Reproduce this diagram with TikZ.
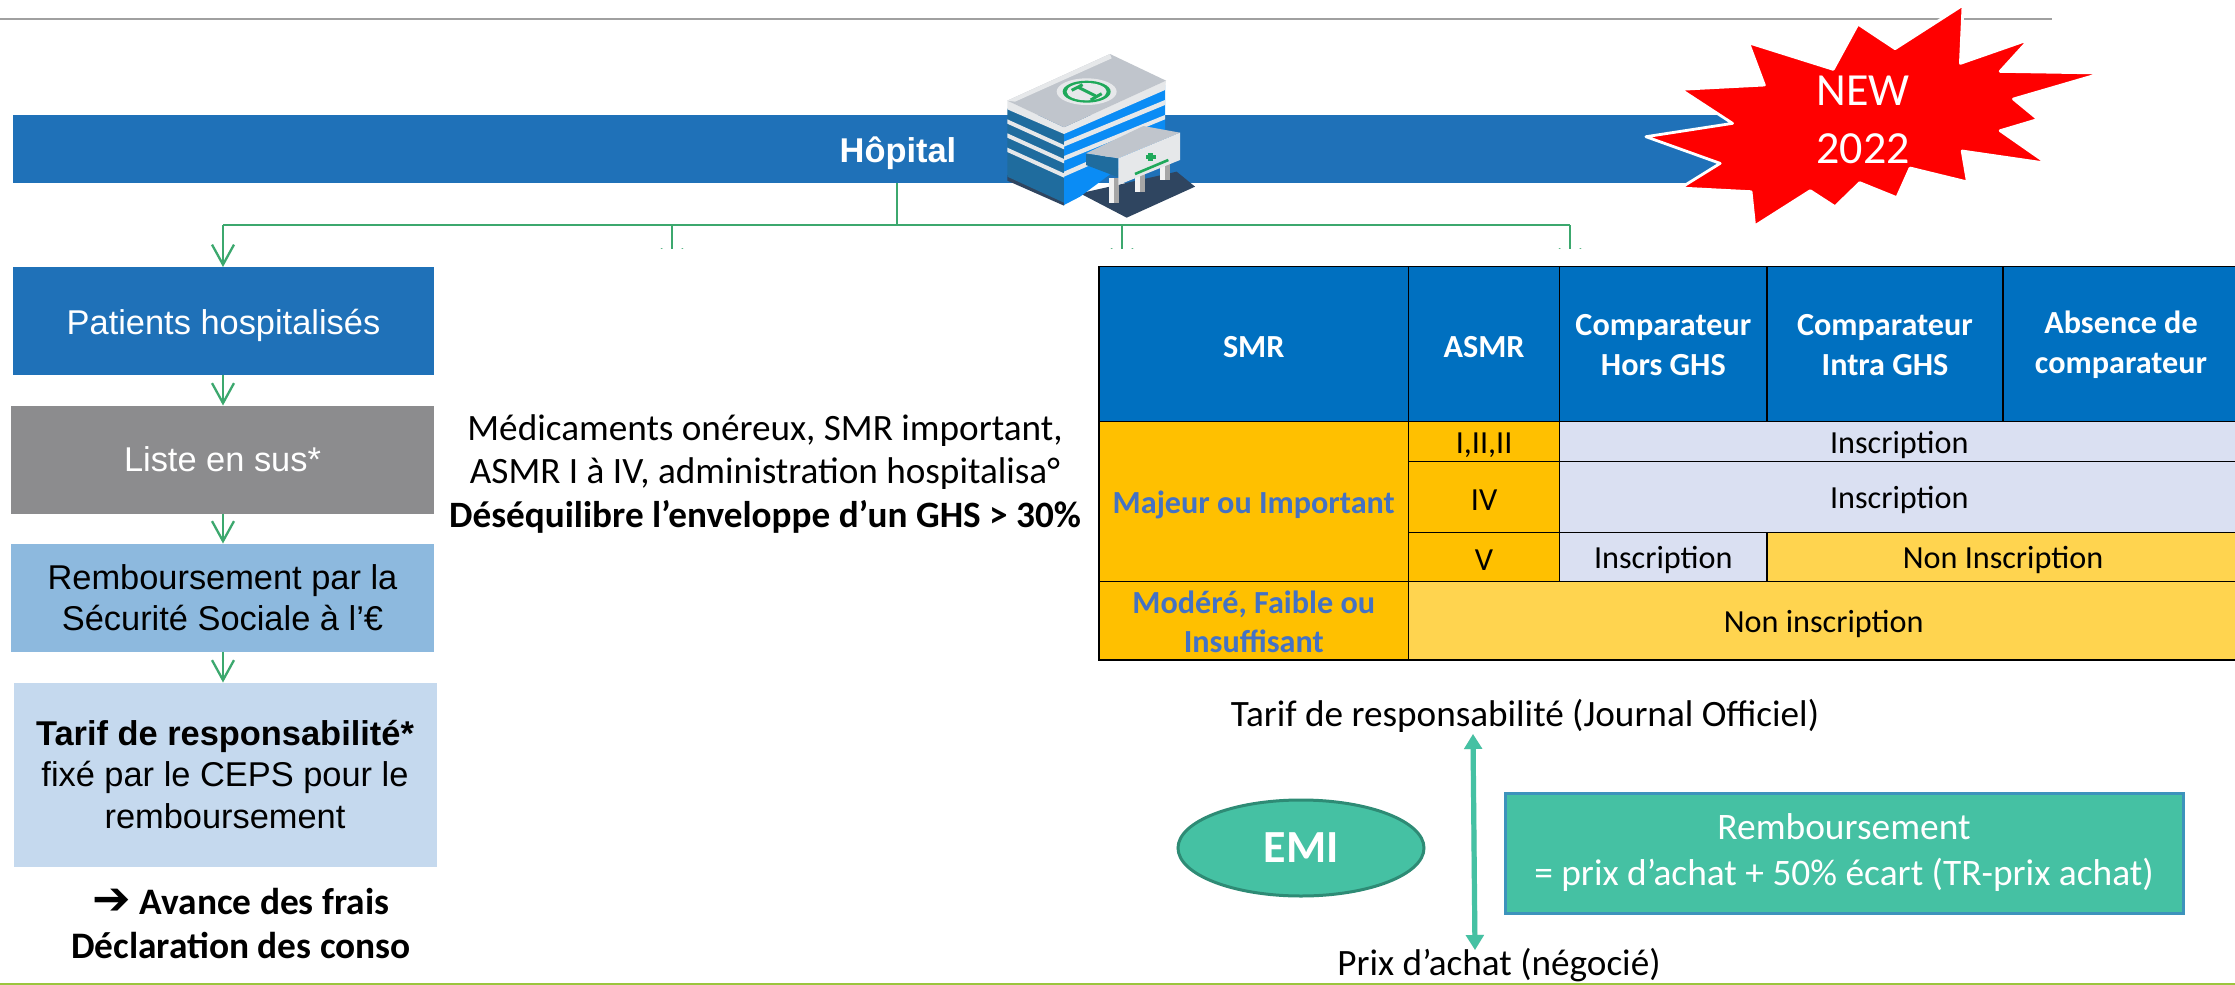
\documentclass[tikz,border=0pt]{standalone}
\usepackage{fontspec}
\setmainfont{Carlito}
\newfontfamily\arialf{Liberation Sans}
\newfontfamily\dejav{DejaVu Sans}
\usetikzlibrary{arrows.meta,shapes.geometric}
\definecolor{barblue}{HTML}{1F71B8}
\definecolor{midgrey}{HTML}{8C8C8E}
\definecolor{medblue}{HTML}{8DB9DE}
\definecolor{paleblue}{HTML}{C5D9EE}
\definecolor{linkgreen}{HTML}{3CA86E}
\definecolor{headblue}{HTML}{0070C0}
\definecolor{gold}{HTML}{FFC000}
\definecolor{lilac}{HTML}{DAE0F2}
\definecolor{softgold}{HTML}{FFD44F}
\definecolor{txtblue}{HTML}{4472C4}
\definecolor{teal}{HTML}{45C1A3}
\definecolor{tealdark}{HTML}{2E8B75}
\definecolor{edgeblue}{HTML}{3D93BC}
\definecolor{rulegreen}{HTML}{9BC53D}
\definecolor{rulegrey}{HTML}{A0A0A0}
\tikzset{
  flowbox/.style={rectangle,draw=none,inner sep=0pt,align=center,font=\arialf\fontsize{17.2}{20.8}\selectfont},
  plaintext/.style={inner sep=0pt,align=center,font=\fontsize{18.6}{21.7}\selectfont},
  cellhead/.style={inner sep=0pt,align=center,text=white,yshift=-1.6pt,font=\bfseries\fontsize{16.1}{19.8}\selectfont},
  cellbody/.style={inner sep=0pt,align=center,yshift=-1.6pt,font=\fontsize{16.1}{19.8}\selectfont},
  cellside/.style={inner sep=0pt,align=center,text=txtblue,yshift=-1.6pt,font=\bfseries\fontsize{16.1}{19.8}\selectfont},
  twolines/.style={yshift=1.2pt},
  link/.style={draw=linkgreen,line width=1.15pt},
  linkarrow/.style={link,-{Straight Barb[length=10pt,width=11pt,line width=1.15pt]}},
  gridline/.style={draw=black,line width=.6pt},
  tealarrow/.style={{Triangle[length=7.5pt,width=8.7pt]}-{Triangle[length=7.5pt,width=8.7pt]}},
}
% name, x1, y1, x2, y2, fill, text style, text
\newcommand{\tcell}[8]{%
  \filldraw[gridline,fill=#6] (#2,#3) rectangle (#4,#5);
  \path (#2,#3) -- (#4,#5) node[midway,#7] (#1) {#8};
}
\begin{document}
\begin{tikzpicture}[x=0.5pt,y=-0.5pt]
\useasboundingbox (0,0) rectangle (2235,985);
\fill[white] (0,0) rectangle (2235,985);
% rules
\draw[draw=rulegrey,line width=1pt] (0,18.7) -- (2052,18.7);
\fill[rulegreen] (0,982.5) rectangle (2235,985);
% bar
\path[fill=barblue] (13,115) rectangle (1735,183);
\node[inner sep=0pt,text=white,font=\arialf\bfseries\fontsize{17.2}{20}\selectfont] (hop) at (898,153) {Hôpital};
\coordinate (barfoot) at (897,183);
\coordinate (busjoin) at (897,225);
% connectors top
\draw[link] (barfoot) -- (busjoin);
\coordinate (busleft) at (223,225);
\coordinate (busright) at (1570,225);
\draw[link,line width=1.35pt] (busleft) -- (busright);
\begin{scope}
  \clip (0,220) rectangle (2235,248);
  \coordinate (t1) at (672,271);
  \coordinate (t2) at (1122,271);
  \coordinate (t3) at (1570,271);
  \draw[linkarrow] (672,225) -- (t1);
  \draw[linkarrow] (1122,225) -- (t2);
  \draw[linkarrow] (1570,225) -- (t3);
\end{scope}
% left column
\fill[barblue] (13,267) rectangle (434,374.5);
\node[flowbox,text=white] (patients) at (223.5,325) {Patients hospitalisés};
\fill[midgrey] (11,405.5) rectangle (434,513.5);
\node[flowbox,text=white] (liste) at (222.5,459.5) {Liste en sus*};
\fill[medblue] (11,543.5) rectangle (434,651.5);
\node[flowbox] (remb) at (222.5,597.5) {Remboursement par la\\Sécurité Sociale à l’€};
\fill[paleblue] (14,682.5) rectangle (437,866.5);
\node[flowbox] (tarif) at (225,774.5) {\textbf{Tarif de responsabilité*}\\fixé par le CEPS pour le\\remboursement};
\coordinate (pTop) at (223,267);
\coordinate (pBot) at (223,374.5);
\coordinate (lTop) at (223,405.5);
\coordinate (lBot) at (223,513.5);
\coordinate (rTop) at (223,543.5);
\coordinate (rBot) at (223,651.5);
\coordinate (tTop) at (223,682.5);
\draw[linkarrow] (busleft) -- (pTop);
\draw[linkarrow] (pBot) -- (lTop);
\draw[linkarrow] (lBot) -- (rTop);
\draw[linkarrow] (rBot) -- (tTop);
\node[inner sep=0pt,align=center,font=\bfseries\fontsize{18.7}{22}\selectfont] (avance) at (241,924) {{\dejav\bfseries\fontsize{23}{22}\selectfont\char"2794}\ Avance des frais\\Déclaration des conso};
% middle text
\node[plaintext] (medics) at (765,474) {Médicaments onéreux, SMR important,\\ASMR I à IV, administration hospitalisa°\\\textbf{Déséquilibre l’enveloppe d’un GHS > 30\%}};
% table
\def\xa{1099}\def\xb{1408.5}\def\xc{1559.7}\def\xd{1767}\def\xe{2003}\def\xf{2239}
\def\ya{266.7}\def\yb{421.7}\def\yc{461.7}\def\yd{532.7}\def\ye{581.7}\def\yf{660}
\tcell{hsmr}{\xa}{\ya}{\xb}{\yb}{headblue}{cellhead}{SMR}
\tcell{hasmr}{\xb}{\ya}{\xc}{\yb}{headblue}{cellhead}{ASMR}
\tcell{hhors}{\xc}{\ya}{\xd}{\yb}{headblue}{cellhead,twolines}{Comparateur\\Hors GHS}
\tcell{hintra}{\xd}{\ya}{\xe}{\yb}{headblue}{cellhead,twolines}{Comparateur\\Intra GHS}
\tcell{habs}{\xe}{\ya}{\xf}{\yb}{headblue}{cellhead,twolines}{Absence de\\comparateur}
\tcell{major}{\xa}{\yb}{\xb}{\ye}{gold}{cellside}{Majeur ou Important}
\tcell{a1}{\xb}{\yb}{\xc}{\yc}{gold}{cellbody}{I,II,II}
\tcell{b1}{\xc}{\yb}{\xf}{\yc}{lilac}{cellbody}{Inscription}
\tcell{a2}{\xb}{\yc}{\xc}{\yd}{gold}{cellbody}{IV}
\tcell{b2}{\xc}{\yc}{\xf}{\yd}{lilac}{cellbody}{Inscription}
\tcell{a3}{\xb}{\yd}{\xc}{\ye}{gold}{cellbody}{V}
\tcell{b3}{\xc}{\yd}{\xd}{\ye}{lilac}{cellbody}{Inscription}
\tcell{c3}{\xd}{\yd}{\xf}{\ye}{softgold}{cellbody}{Non Inscription}
\tcell{moder}{\xa}{\ye}{\xb}{\yf}{gold}{cellside,twolines}{Modéré, Faible ou\\Insuffisant}
\tcell{nonins}{\xb}{\ye}{\xf}{\yf}{softgold}{cellbody}{Non inscription}
% lower
\node[plaintext] (trlab) at (1525,716) {Tarif de responsabilité (Journal Officiel)};
\node[plaintext] (prixlab) at (1499,965) {Prix d’achat (négocié)};
\coordinate (arrU) at (1473,734);
\coordinate (arrD) at (1475,950);
\draw[draw=black!45,opacity=.35,line width=2.4pt,tealarrow,shift={(4,3)}] (arrU) -- (arrD);
\draw[draw=teal,line width=2.6pt,tealarrow] (arrU) -- (arrD);
\node[ellipse,fill=teal,draw=tealdark,line width=1.5pt,minimum width=123pt,minimum height=48pt,inner sep=0pt,text=white,font=\bfseries\fontsize{23}{26}\selectfont] (emi) at (1301,848) {EMI};
\node[rectangle,fill=teal,draw=edgeblue,line width=1.5pt,minimum width=339pt,minimum height=60pt,inner sep=0pt,align=center,text=white,font=\fontsize{18.7}{23}\selectfont] (rembbox) at (1844,853) {Remboursement\\= prix d’achat + 50\% écart (TR-prix achat)};
% star
\begin{scope}[shift={(850,0)},x=0.4417pt,y=-0.1667pt]
\filldraw[fill=red,draw=white,line width=1.4pt,line join=round]
 (1260,15)--(1257,190)--(1335,118)--(1302,214)--(1418,219)--(1317,297)--(1345,358)--(1302,392)--(1355,490)--(1259,453)--(1265,546)--(1200,504)--(1185,593)--(1143,548)--(1115,620)--(1087,572)--(1024,678)--(1020,575)--(940,564)--(985,490)--(901,410)--(999,370)--(940,268)--(1035,255)--(1017,128)--(1113,208)--(1141,72)--(1183,146)--cycle;
\end{scope}
\node[inner sep=0pt,align=center,text=white,font=\fontsize{23}{29}\selectfont] (newlab) at (1863,120) {NEW\\2022};
% hospital icon
\begin{scope}[shift={(980,50)},x=0.16667pt,y=-0.16667pt]
\definecolor{hdark}{HTML}{2F4560}
\definecolor{hwall}{HTML}{1F6C9E}
\definecolor{hbright}{HTML}{0A8CF5}
\definecolor{hroof}{HTML}{C0C5CC}
\definecolor{hband}{HTML}{E6E8EA}
\definecolor{hgreen}{HTML}{1FA95A}
\fill[hdark] (300,430)--(590,365)--(645,410)--(440,503)--cycle;
\fill[hdark] (82,375)--(252,450)--(252,467)--(82,392)--cycle;
\fill[hwall] (82,175)--(252,250)--(252,458)--(82,380)--cycle;
\fill[hbright] (252,250)--(555,105)--(555,250)--(300,440)--(252,465)--cycle;
\foreach \d in {0,42,85}{
  \fill[hband] (82,{208+\d})--(252,{285+\d})--(252,{298+\d})--(82,{221+\d})--cycle;
}
\fill[hband] (252,275)--(555,150)--(555,165)--(252,290)--cycle;
\fill[hband] (252,318)--(555,195)--(555,208)--(252,332)--cycle;
\fill[hband] (252,365)--(400,300)--(400,315)--(252,380)--cycle;
\fill[hband] (82,152)--(252,232)--(558,92)--(555,120)--(252,252)--(82,178)--cycle;
\fill[hroof] (82,152)--(390,12)--(558,92)--(252,232)--cycle;
\fill[hband] (82,152)--(390,12)--(395,25)--(105,155)--cycle;
\fill[hband] (320,125) ellipse[x radius=90,y radius=40];
\fill[hgreen] (320,125) ellipse[x radius=72,y radius=33];
\fill[hband] (320,125) ellipse[x radius=60,y radius=26];
\draw[hgreen,line width=1.5pt] (295,112)--(347,138);
\draw[hgreen,line width=1.5pt] (275,121)--(308,104) (332,150)--(365,131);
\foreach \cx/\ct/\cb in {403/385/460,480/360/425,556/335/390}{
  \fill[gray!70] ({\cx-15},\ct) rectangle ({\cx+15},\cb);
  \fill[white!90!gray] ({\cx-15},\ct) rectangle ({\cx},\cb);
}
\fill[hwall] (318,310)--(415,325)--(415,382)--(318,345)--cycle;
\fill[hroof] (318,310)--(490,228)--(600,248)--(415,325)--cycle;
\fill[hband] (415,325)--(600,248)--(600,330)--(415,405)--cycle;
\draw[hgreen,line width=1.3pt] (465,372)--(565,330);
\fill[hgreen] (505,308) rectangle (520,332);
\fill[hgreen] (498,314) rectangle (528,326);
\end{scope}
\end{tikzpicture}
\end{document}
